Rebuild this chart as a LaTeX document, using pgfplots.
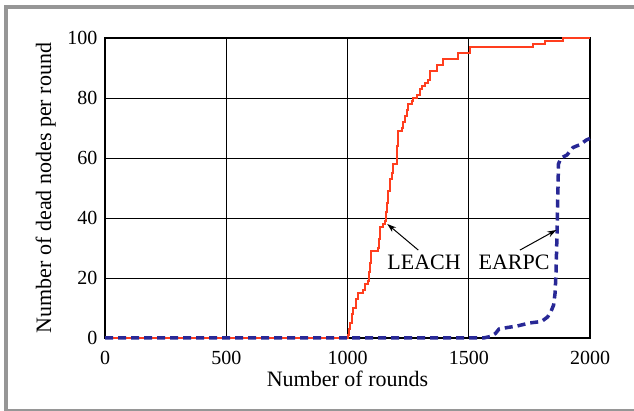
\documentclass[border=0pt]{standalone}
\usepackage{fontspec}
\setmainfont{Liberation Serif}
\usepackage{pgfplots}
\pgfplotsset{compat=1.18}
\usetikzlibrary{arrows.meta}
\definecolor{leach}{RGB}{255,62,30}
\definecolor{earpc}{RGB}{40,40,150}
\definecolor{framegray}{RGB}{150,150,150}
\begin{document}
\begin{tikzpicture}[x=1pt,y=1pt]
\fill[white] (0,0) rectangle (634,411);
\fill[framegray] (3.5,401.7) rectangle (634,406);
\fill[framegray] (3.5,0.4) rectangle (8.3,406);
\fill[framegray] (3.5,0.4) rectangle (634,1.6);
\begin{axis}[
  at={(105pt,73pt)}, anchor=south west,
  scale only axis, width=485pt, height=300pt,
  xmin=0, xmax=2000, ymin=0, ymax=100,
  xtick={0,500,1000,1500,2000},
  ytick={0,20,40,60,80,100},
  scaled ticks=false,
  /pgf/number format/assume math mode=true,
  /pgf/number format/1000 sep={},
  tick align=inside,
  major tick length=4pt,
  tick style={black, line width=0.8pt},
  grid=major,
  major grid style={black, line width=0.8pt},
  axis line style={black, line width=1.2pt},
  ticklabel style={font=\fontsize{20pt}{24pt}\selectfont},
  xticklabel style={anchor=base, yshift=-27pt},
  yticklabel style={anchor=east, xshift=-4pt},
  label style={font=\fontsize{22pt}{26pt}\selectfont},
  xlabel={Number of rounds},
  ylabel={Number of dead nodes per round},
  xlabel style={at={(axis description cs:0.5,-0.162)}, anchor=base},
  ylabel style={at={(axis description cs:-0.1113,0.5)}, anchor=base, rotate=0},
  clip=false,
]
\addplot[const plot, color=leach, line width=2pt] coordinates {
(0,0) (997,0) (1003,1) (1007,3) (1012,5) (1018,8) (1024,10) (1033,13)
(1045,15) (1065,16) (1072,18) (1086,19) (1090,22) (1094,25) (1098,29)
(1127,30) (1131,33) (1134,37) (1148,38) (1155,39) (1158,42) (1162,45)
(1168,49) (1175,53) (1182,55) (1189,58) (1203,60) (1205,64) (1207,67)
(1209,69) (1223,70) (1230,72) (1237,74) (1244,76) (1251,78) (1264,79)
(1271,80) (1285,81) (1299,83) (1306,84) (1320,85) (1333,86) (1340,89)
(1368,91) (1395,93) (1457,95) (1505,97) (1766,98) (1814,99) (1890,100)
(2000,100)
};
\addplot[color=earpc, line width=3.5pt, dash pattern=on 8pt off 5pt] coordinates {
(0,0) (1560,0) (1590,0.5) (1610,1.5) (1625,3) (1660,3.5) (1700,4)
(1750,5) (1800,5.5) (1825,7) (1840,9) (1850,11) (1856,15) (1860,22)
(1864,35) (1868,50) (1870,58) (1880,60) (1905,61) (1915,62) (1930,63.5)
(1960,64.5) (1985,66) (2000,66.5)
};
\node[anchor=base, font=\fontsize{22pt}{26pt}\selectfont, inner sep=0pt] at (axis cs:1316,22.7) {LEACH};
\node[anchor=base, font=\fontsize{22pt}{26pt}\selectfont, inner sep=0pt] at (axis cs:1687,22.7) {EARPC};
\draw[-{Stealth[length=9pt,width=6pt]}, line width=1pt] (axis cs:1292,29.3) -- (axis cs:1164,38);
\draw[-{Stealth[length=9pt,width=6pt]}, line width=1pt] (axis cs:1711,29.3) -- (axis cs:1861,36);
\end{axis}
\path (0,0) rectangle (634,411);
\end{tikzpicture}
\end{document}
